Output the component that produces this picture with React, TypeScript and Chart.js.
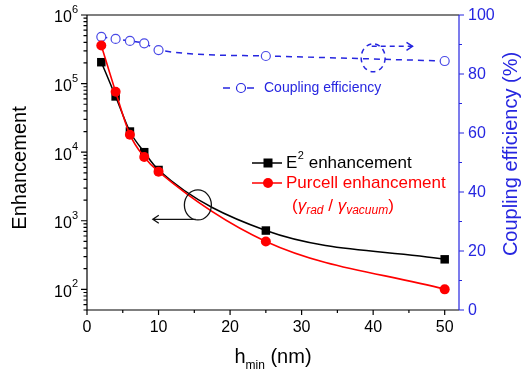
import React, { useEffect, useRef } from "react";
import { Chart, registerables } from "chart.js";
Chart.register(...registerables);

const hmin = [2, 4, 6, 8, 10, 25, 50];
const e2Enh = [2.05e5, 6.5e4, 2.0e4, 1.0e4, 5.5e3, 720, 274];
const purcellEnh = [3.6e5, 7.6e4, 1.8e4, 8.5e3, 5.2e3, 500, 100];
const coupling = [92.6, 91.9, 91.2, 90.4, 88.1, 86.1, 84.4];
const xMajor = [0, 10, 20, 30, 40, 50];
const xMinor = [5, 15, 25, 35, 45];
const yExp = [2, 3, 4, 5, 6];
const rMajor = [0, 20, 40, 60, 80, 100];
const rMinor = [10, 30, 50, 70, 90];

const FONT = '"Liberation Sans", Arial, sans-serif';
const BLUE = "#2626e0";
const RED = "#ff0000";

const decor = {
  id: "decor",
  afterDraw(chart: any) {
    const ctx = chart.ctx as CanvasRenderingContext2D;
    const x = chart.scales.x;
    const y = chart.scales.y;
    const r = chart.scales.y2;
    const a = chart.chartArea;
    ctx.save();
    ctx.lineWidth = 1.2;
    // black frame lines
    ctx.strokeStyle = "#000";
    ctx.beginPath();
    ctx.moveTo(a.left, a.top);
    ctx.lineTo(a.left, a.bottom);
    ctx.lineTo(a.right, a.bottom);
    ctx.moveTo(a.left, a.top);
    ctx.lineTo(a.right, a.top);
    ctx.stroke();
    // x ticks
    ctx.beginPath();
    xMajor.forEach((v) => {
      const px = x.getPixelForValue(v);
      ctx.moveTo(px, a.bottom);
      ctx.lineTo(px, a.bottom + 5);
    });
    xMinor.forEach((v) => {
      const px = x.getPixelForValue(v);
      ctx.moveTo(px, a.bottom);
      ctx.lineTo(px, a.bottom + 3);
    });
    // log ticks
    for (let k = 1; k <= 6; k++) {
      for (let m = 1; m <= 9; m++) {
        const v = m * Math.pow(10, k);
        if (v < y.min || v > y.max) continue;
        const py = y.getPixelForValue(v);
        ctx.moveTo(a.left, py);
        ctx.lineTo(a.left - (m === 1 ? 6 : 3.5), py);
      }
    }
    ctx.stroke();
    // x labels
    ctx.fillStyle = "#000";
    ctx.font = `16px ${FONT}`;
    ctx.textAlign = "center";
    ctx.textBaseline = "middle";
    xMajor.forEach((v) => {
      ctx.fillText(String(v), x.getPixelForValue(v), a.bottom + 18);
    });
    // y labels 10^n
    yExp.forEach((e) => {
      const py = y.getPixelForValue(Math.pow(10, e));
      ctx.font = `16px ${FONT}`;
      const wb = ctx.measureText("10").width;
      ctx.font = `11px ${FONT}`;
      const we = ctx.measureText(String(e)).width;
      const right = a.left - 9;
      ctx.textAlign = "left";
      ctx.font = `16px ${FONT}`;
      ctx.fillText("10", right - wb - we, py + 3);
      ctx.font = `11px ${FONT}`;
      ctx.fillText(String(e), right - we, py - 5);
    });
    // right axis
    ctx.strokeStyle = BLUE;
    ctx.beginPath();
    ctx.moveTo(a.right, a.top);
    ctx.lineTo(a.right, a.bottom);
    rMajor.forEach((v) => {
      const py = r.getPixelForValue(v);
      ctx.moveTo(a.right, py);
      ctx.lineTo(a.right + 5, py);
    });
    rMinor.forEach((v) => {
      const py = r.getPixelForValue(v);
      ctx.moveTo(a.right, py);
      ctx.lineTo(a.right + 3, py);
    });
    ctx.stroke();
    ctx.fillStyle = BLUE;
    ctx.font = `16px ${FONT}`;
    ctx.textAlign = "left";
    rMajor.forEach((v) => {
      ctx.fillText(String(v), a.right + 9, r.getPixelForValue(v) + 1);
    });
    // axis titles
    ctx.fillStyle = "#000";
    ctx.save();
    ctx.translate(20, 168);
    ctx.rotate(-Math.PI / 2);
    ctx.textAlign = "center";
    ctx.font = `20px ${FONT}`;
    ctx.fillText("Enhancement", 0, 0);
    ctx.restore();
    ctx.save();
    ctx.translate(511, 154);
    ctx.rotate(-Math.PI / 2);
    ctx.textAlign = "center";
    ctx.fillStyle = BLUE;
    ctx.font = `20px ${FONT}`;
    ctx.fillText("Coupling efficiency (%)", 0, 0);
    ctx.restore();
    // x title h_min (nm)
    {
      ctx.font = `20px ${FONT}`;
      const w1 = ctx.measureText("h").width;
      const w3 = ctx.measureText(" (nm)").width;
      ctx.font = `12px ${FONT}`;
      const w2 = ctx.measureText("min").width;
      const cx = (a.left + a.right) / 2 - 0;
      let sx = cx - (w1 + w2 + w3) / 2;
      ctx.textAlign = "left";
      ctx.font = `20px ${FONT}`;
      ctx.fillText("h", sx, 357);
      ctx.font = `12px ${FONT}`;
      ctx.fillText("min", sx + w1, 366);
      ctx.font = `20px ${FONT}`;
      ctx.fillText(" (nm)", sx + w1 + w2, 357);
    }
    // legends
    ctx.lineWidth = 1.5;
    ctx.strokeStyle = "#000";
    ctx.beginPath();
    ctx.moveTo(252, 163);
    ctx.lineTo(282, 163);
    ctx.stroke();
    ctx.fillStyle = "#000";
    ctx.fillRect(263.5, 158.5, 9, 9);
    ctx.font = `17px ${FONT}`;
    ctx.textAlign = "left";
    ctx.fillText("E", 286, 163);
    const wE = ctx.measureText("E").width;
    ctx.font = `11px ${FONT}`;
    ctx.fillText("2", 286 + wE + 0.5, 156);
    const w2 = ctx.measureText("2").width;
    ctx.font = `17px ${FONT}`;
    ctx.fillText(" enhancement", 286 + wE + w2 + 0.5, 163);

    ctx.strokeStyle = RED;
    ctx.beginPath();
    ctx.moveTo(252, 183);
    ctx.lineTo(282, 183);
    ctx.stroke();
    ctx.fillStyle = RED;
    ctx.beginPath();
    ctx.arc(268, 183, 5, 0, Math.PI * 2);
    ctx.fill();
    ctx.font = `17px ${FONT}`;
    ctx.fillText("Purcell enhancement", 286, 183);
    {
      const parts: [string, number, boolean][] = [
        ["(", 0, false],
        ["\u03B3", 0, true],
        ["rad", 1, true],
        [" / ", 0, false],
        ["\u03B3", 0, true],
        ["vacuum", 1, true],
        [")", 0, false],
      ];
      let sx = 292;
      parts.forEach(([t, sub, it]) => {
        ctx.font = `${it ? "italic " : ""}${sub ? 12 : 17}px ${FONT}`;
        ctx.fillText(t, sx, sub ? 211 : 206);
        sx += ctx.measureText(t).width;
      });
    }
    // coupling legend
    ctx.strokeStyle = BLUE;
    ctx.lineWidth = 1.5;
    ctx.beginPath();
    ctx.moveTo(223, 88);
    ctx.lineTo(230, 88);
    ctx.moveTo(247, 88);
    ctx.lineTo(254, 88);
    ctx.stroke();
    ctx.lineWidth = 1.2;
    ctx.beginPath();
    ctx.arc(241, 88, 4.5, 0, Math.PI * 2);
    ctx.fillStyle = "#fff";
    ctx.fill();
    ctx.stroke();
    ctx.fillStyle = BLUE;
    ctx.font = `14px ${FONT}`;
    ctx.fillText("Coupling efficiency", 264, 88);

    // annotation: solid ellipse + arrow (left axis data)
    ctx.strokeStyle = "#111";
    ctx.lineWidth = 1.3;
    const cx1 = x.getPixelForValue(15.5);
    const cy1 = y.getPixelForValue(1700);
    ctx.beginPath();
    ctx.ellipse(cx1, cy1, 13.5, 15, 0, 0, Math.PI * 2);
    ctx.stroke();
    const ay = y.getPixelForValue(1050);
    const ax0 = x.getPixelForValue(15.2);
    const ax1 = x.getPixelForValue(9.2);
    ctx.beginPath();
    ctx.moveTo(ax0, ay);
    ctx.lineTo(ax1, ay);
    ctx.moveTo(ax1 + 6, ay - 4);
    ctx.lineTo(ax1, ay);
    ctx.lineTo(ax1 + 6, ay + 4);
    ctx.stroke();

    // annotation: dashed ellipse + dashed arrow (right axis data)
    ctx.strokeStyle = BLUE;
    ctx.lineWidth = 1.5;
    ctx.setLineDash([5, 4]);
    const cx2 = x.getPixelForValue(40);
    const cy2 = r.getPixelForValue(85.5);
    ctx.beginPath();
    ctx.ellipse(cx2, cy2, 12, 14, 0, 0, Math.PI * 2);
    ctx.stroke();
    const by = r.getPixelForValue(89.4);
    const bx0 = x.getPixelForValue(39.8);
    const bx1 = x.getPixelForValue(45.5);
    ctx.beginPath();
    ctx.moveTo(bx0, by);
    ctx.lineTo(bx1, by);
    ctx.stroke();
    ctx.setLineDash([]);
    ctx.beginPath();
    ctx.moveTo(bx1 - 6, by - 4);
    ctx.lineTo(bx1, by);
    ctx.lineTo(bx1 - 6, by + 4);
    ctx.stroke();
    ctx.restore();
  },
};

export default function App() {
  const ref = useRef<HTMLCanvasElement>(null);
  useEffect(() => {
    const chart = new Chart(ref.current as HTMLCanvasElement, {
      type: "line",
      data: {
        datasets: [
          {
            label: "Purcell enhancement",
            data: hmin.map((v, i) => ({ x: v, y: purcellEnh[i] })),
            yAxisID: "y",
            borderColor: RED,
            backgroundColor: RED,
            pointStyle: "circle",
            pointRadius: 5,
            pointBorderWidth: 0,
            borderWidth: 1.6,
            cubicInterpolationMode: "monotone",
            order: 1,
          },
          {
            label: "E2 enhancement",
            data: hmin.map((v, i) => ({ x: v, y: e2Enh[i] })),
            yAxisID: "y",
            borderColor: "#000",
            backgroundColor: "#000",
            pointStyle: "rect",
            pointRadius: 6,
            pointBorderWidth: 0,
            borderWidth: 1.5,
            cubicInterpolationMode: "monotone",
            order: 2,
          },
          {
            label: "Coupling efficiency",
            data: hmin.map((v, i) => ({ x: v, y: coupling[i] })),
            yAxisID: "y2",
            borderColor: BLUE,
            backgroundColor: "#fff",
            pointBorderColor: "#4a4ae6",
            pointStyle: "circle",
            pointRadius: 4.5,
            pointBorderWidth: 1.2,
            borderWidth: 1.5,
            borderDash: [6, 5],
            cubicInterpolationMode: "monotone",
            order: 3,
          },
        ] as any,
      },
      options: {
        responsive: false,
        animation: false,
        layout: { padding: { left: 87, top: 15, right: 63, bottom: 65 } },
        plugins: { legend: { display: false }, tooltip: { enabled: false } },
        scales: {
          x: { type: "linear", min: 0, max: 52, display: false },
          y: { type: "logarithmic", min: 50, max: 1e6, display: false },
          y2: { type: "linear", min: 0, max: 100, display: false },
        },
      } as any,
      plugins: [decor],
    });
    return () => chart.destroy();
  }, []);
  return (
    <div style={{ position: "absolute", left: 0, top: 0, width: 522, height: 375, background: "#fff" }}>
      <canvas ref={ref} width={522} height={375} style={{ display: "block" }} />
    </div>
  );
}
